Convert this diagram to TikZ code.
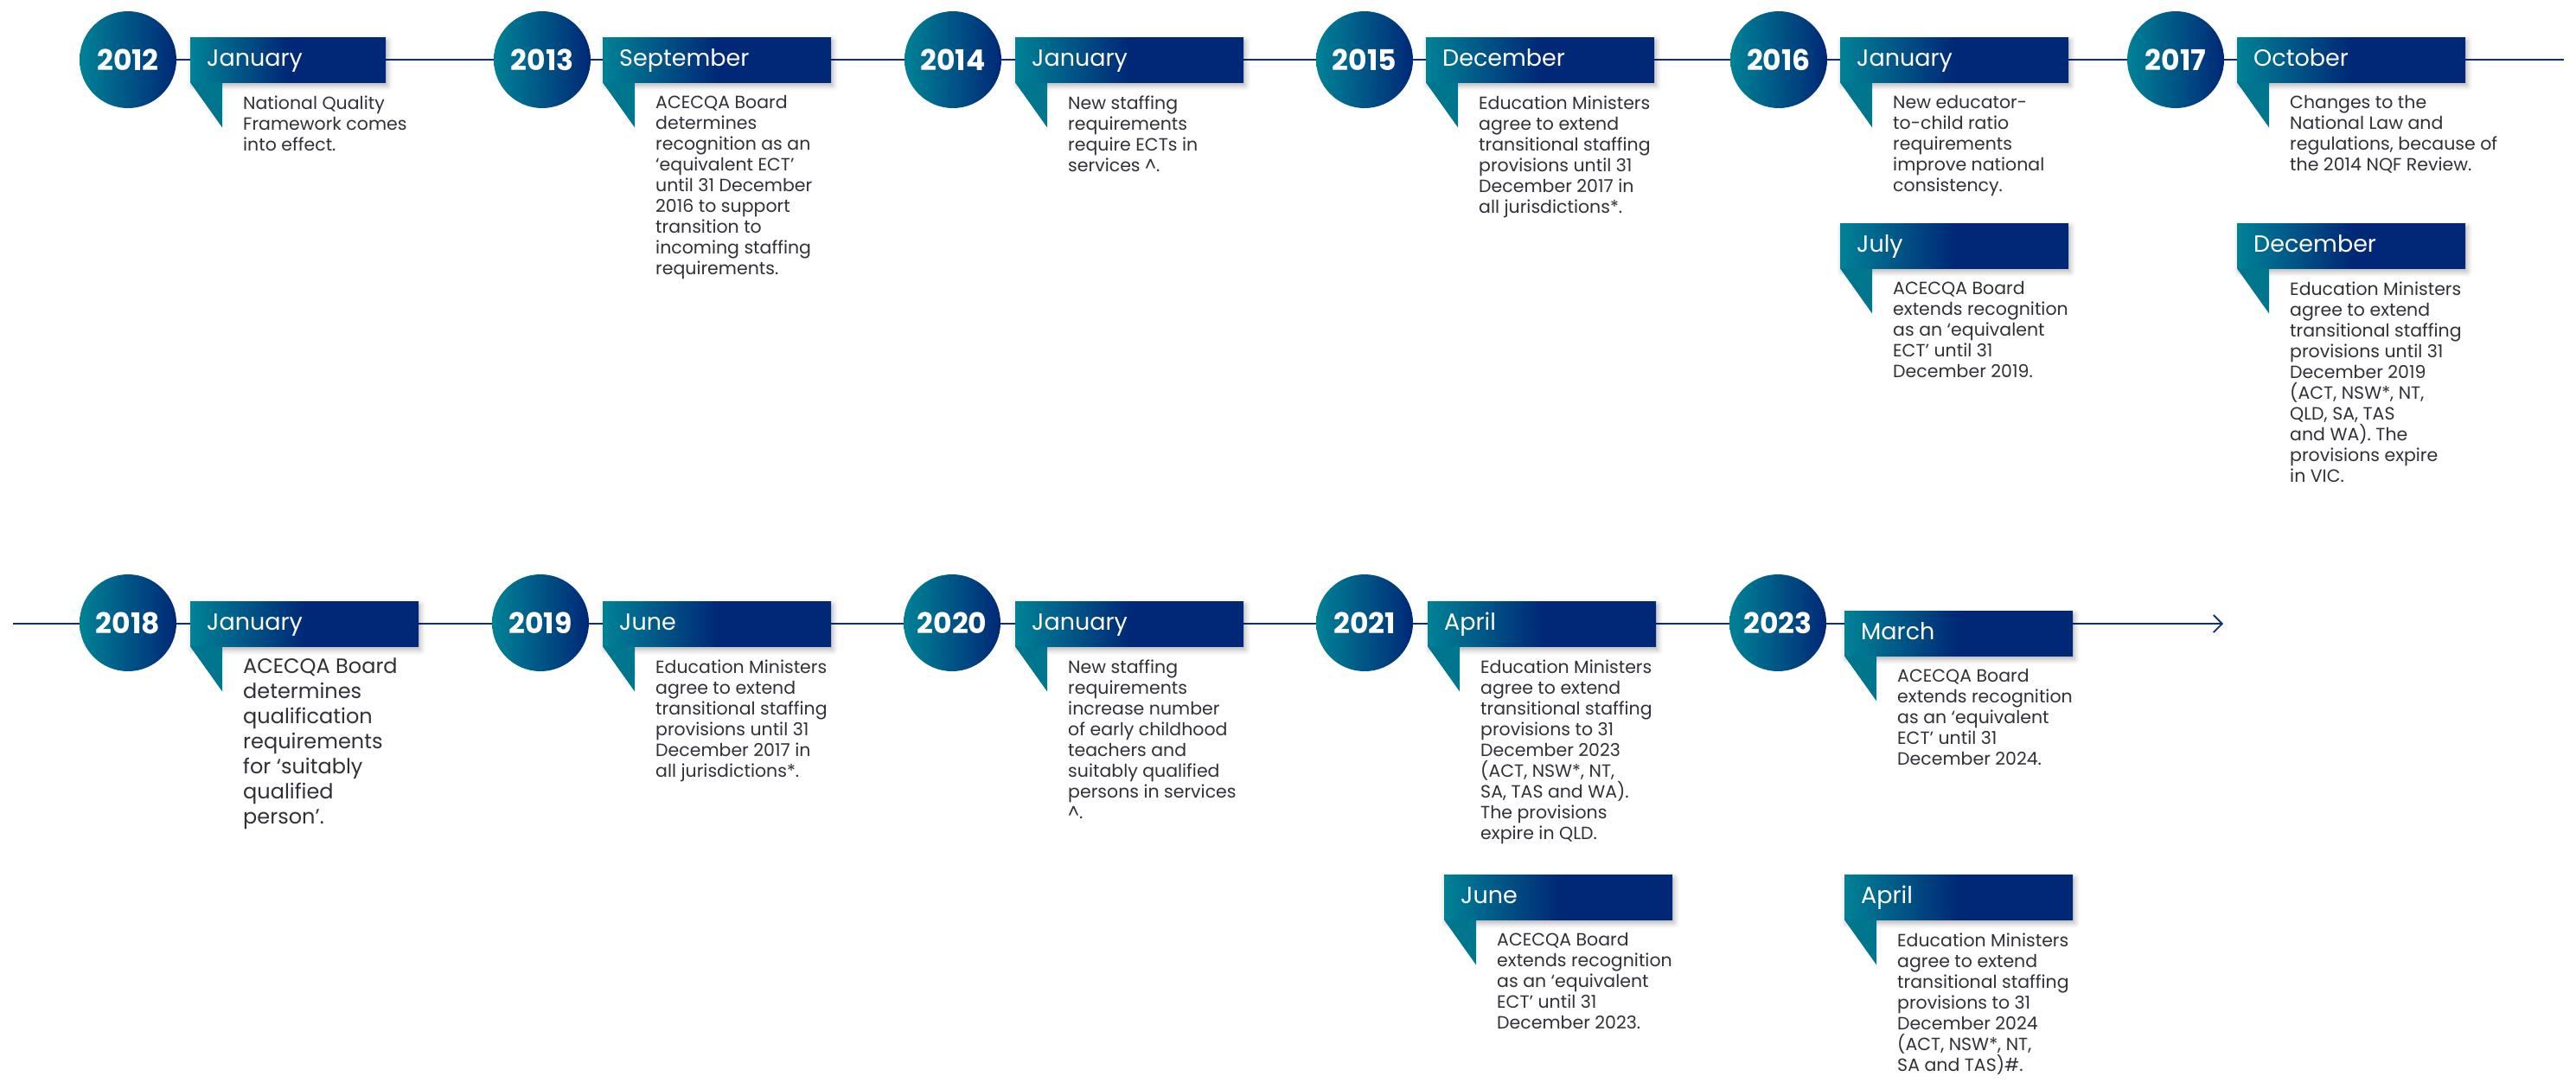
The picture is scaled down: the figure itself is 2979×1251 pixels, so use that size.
\documentclass[tikz,border=0pt]{standalone}
\usepackage{fontspec}
\setmainfont{Poppins}
\usetikzlibrary{positioning,arrows.meta,backgrounds,shadows.blur}

\definecolor{acteal}{RGB}{0,130,150}
\definecolor{acnavy}{RGB}{0,40,118}
\definecolor{acflag}{RGB}{0,118,142}
\definecolor{acline}{RGB}{16,46,122}
\definecolor{actext}{RGB}{48,48,56}

% left-to-right fades for the year discs and month banners
\pgfdeclarehorizontalshading{yeargrad}{100bp}{color(0bp)=(acteal); color(25bp)=(acteal); color(75bp)=(acnavy); color(100bp)=(acnavy)}
\pgfdeclarehorizontalshading{monthgrad}{100bp}{color(0bp)=(acteal); color(25bp)=(acteal); color(50bp)=(acnavy); color(100bp)=(acnavy)}

\begin{document}
\begin{tikzpicture}[x=1pt,y=-1pt,
    year/.style={circle,minimum size=112pt,inner sep=0pt,shading=yeargrad,
        text=white,font=\fontsize{33}{33}\selectfont\bfseries},
    monthbox/.style={anchor=north west,minimum height=52pt,text width=226pt,
        inner xsep=19pt,inner ysep=0pt,text height=20pt,text depth=6pt,align=left,
        shading=monthgrad,text=white,font=\fontsize{27}{27}\selectfont,
        blur shadow={shadow xshift=2pt,shadow yshift=-4pt,shadow blur radius=6pt,shadow opacity=30}},
    flag/.style={fill=acflag},
    desc/.style={anchor=north west,inner sep=0pt,align=left,text=actext,
        font=\fontsize{20.5}{24}\selectfont},
    timeline/.style={draw=acline,line width=1.8pt}]

    \useasboundingbox (0,0) rectangle (2979,1251);

    % ---- 2012 to 2017 ----
    \node[year] (y12) at (148,69) {2012};
    \node[year] (y13) at (627,69) {2013};
    \node[year] (y14) at (1102,69) {2014};
    \node[year] (y15) at (1578,69) {2015};
    \node[year] (y16) at (2057,69) {2016};
    \node[year] (y17) at (2516,69) {2017};

    \node[monthbox,text width=188pt] (m12) at (220,43) {January};
    \node[monthbox] (m13) at (697,43) {September};
    \node[monthbox] (m14) at (1174,43) {January};
    \node[monthbox] (m15) at (1649,43) {December};
    \node[monthbox] (m16a) at (2128,43) {January};
    \node[monthbox] (m16b) at (2128,258) {July};
    \node[monthbox] (m17a) at (2587,43) {October};
    \node[monthbox] (m17b) at (2587,258) {December};

    \fill[flag] (m12.south west) -- ++(37,0) -- ++(0,52) -- cycle;
    \fill[flag] (m13.south west) -- ++(37,0) -- ++(0,52) -- cycle;
    \fill[flag] (m14.south west) -- ++(37,0) -- ++(0,52) -- cycle;
    \fill[flag] (m15.south west) -- ++(37,0) -- ++(0,52) -- cycle;
    \fill[flag] (m16a.south west) -- ++(37,0) -- ++(0,52) -- cycle;
    \fill[flag] (m16b.south west) -- ++(37,0) -- ++(0,52) -- cycle;
    \fill[flag] (m17a.south west) -- ++(37,0) -- ++(0,52) -- cycle;
    \fill[flag] (m17b.south west) -- ++(37,0) -- ++(0,52) -- cycle;

    \node[desc,below right=15pt and 61pt of m12.south west] (t12)
        {National Quality\\Framework comes\\into effect.};
    \node[desc,below right=15pt and 61pt of m13.south west] (t13)
        {ACECQA Board\\determines\\recognition as an\\‘equivalent ECT’\\until 31 December\\2016 to support\\transition to\\incoming staffing\\requirements.};
    \node[desc,below right=15pt and 61pt of m14.south west] (t14)
        {New staffing\\requirements\\require ECTs in\\services \textasciicircum.};
    \node[desc,below right=15pt and 61pt of m15.south west] (t15)
        {Education Ministers\\agree to extend\\transitional staffing\\provisions until 31\\December 2017 in\\all jurisdictions*.};
    \node[desc,below right=15pt and 61pt of m16a.south west] (t16a)
        {New educator-\\to-child ratio\\requirements\\improve national\\consistency.};
    \node[desc,below right=15pt and 61pt of m16b.south west] (t16b)
        {ACECQA Board\\extends recognition\\as an ‘equivalent\\ECT’ until 31\\December 2019.};
    \node[desc,below right=15pt and 61pt of m17a.south west] (t17a)
        {Changes to the\\National Law and\\regulations, because of\\the 2014 NQF Review.};
    \node[desc,below right=15pt and 61pt of m17b.south west] (t17b)
        {Education Ministers\\agree to extend\\transitional staffing\\provisions until 31\\December 2019\\(ACT, NSW*, NT,\\QLD, SA, TAS\\and WA). The\\provisions expire\\in VIC.};

    % ---- 2018 to 2023 ----
    \node[year] (y18) at (148,720) {2018};
    \node[year] (y19) at (625,720) {2019};
    \node[year] (y20) at (1101,720) {2020};
    \node[year] (y21) at (1578,720) {2021};
    \node[year] (y23) at (2056,720) {2023};

    \node[monthbox] (m18) at (220,695) {January};
    \node[monthbox] (m19) at (697,695) {June};
    \node[monthbox] (m20) at (1174,695) {January};
    \node[monthbox] (m21a) at (1651,695) {April};
    \node[monthbox] (m21b) at (1670,1011) {June};
    \node[monthbox] (m23a) at (2133,706) {March};
    \node[monthbox] (m23b) at (2133,1011) {April};

    \fill[flag] (m18.south west) -- ++(37,0) -- ++(0,52) -- cycle;
    \fill[flag] (m19.south west) -- ++(37,0) -- ++(0,52) -- cycle;
    \fill[flag] (m20.south west) -- ++(37,0) -- ++(0,52) -- cycle;
    \fill[flag] (m21a.south west) -- ++(37,0) -- ++(0,52) -- cycle;
    \fill[flag] (m21b.south west) -- ++(37,0) -- ++(0,52) -- cycle;
    \fill[flag] (m23a.south west) -- ++(37,0) -- ++(0,52) -- cycle;
    \fill[flag] (m23b.south west) -- ++(37,0) -- ++(0,52) -- cycle;

    \node[desc,font=\fontsize{24}{29}\selectfont,below right=13pt and 61pt of m18.south west] (t18)
        {ACECQA Board\\determines\\qualification\\requirements\\for ‘suitably\\qualified\\person’.};
    \node[desc,below right=15pt and 61pt of m19.south west] (t19)
        {Education Ministers\\agree to extend\\transitional staffing\\provisions until 31\\December 2017 in\\all jurisdictions*.};
    \node[desc,below right=15pt and 61pt of m20.south west] (t20)
        {New staffing\\requirements\\increase number\\of early childhood\\teachers and\\suitably qualified\\persons in services\\\textasciicircum.};
    \node[desc,below right=15pt and 61pt of m21a.south west] (t21a)
        {Education Ministers\\agree to extend\\transitional staffing\\provisions to 31\\December 2023\\(ACT, NSW*, NT,\\SA, TAS and WA).\\The provisions\\expire in QLD.};
    \node[desc,below right=15pt and 61pt of m21b.south west] (t21b)
        {ACECQA Board\\extends recognition\\as an ‘equivalent\\ECT’ until 31\\December 2023.};
    \node[desc,below right=15pt and 61pt of m23a.south west] (t23a)
        {ACECQA Board\\extends recognition\\as an ‘equivalent\\ECT’ until 31\\December 2024.};
    \node[desc,below right=15pt and 61pt of m23b.south west] (t23b)
        {Education Ministers\\agree to extend\\transitional staffing\\provisions to 31\\December 2024\\(ACT, NSW*, NT,\\SA and TAS)\#.};

    % the two time axes run behind everything
    \coordinate (end1) at (2965,69);
    \coordinate (start2) at (15,721);
    \coordinate (end2) at (2571,721);
    \begin{pgfonlayer}{background}
        \draw[timeline] (y12.center) -- (end1);
        \draw[timeline,-{Straight Barb[length=10pt,width=20pt]}] (start2) -- (end2);
    \end{pgfonlayer}

\end{tikzpicture}
\end{document}
